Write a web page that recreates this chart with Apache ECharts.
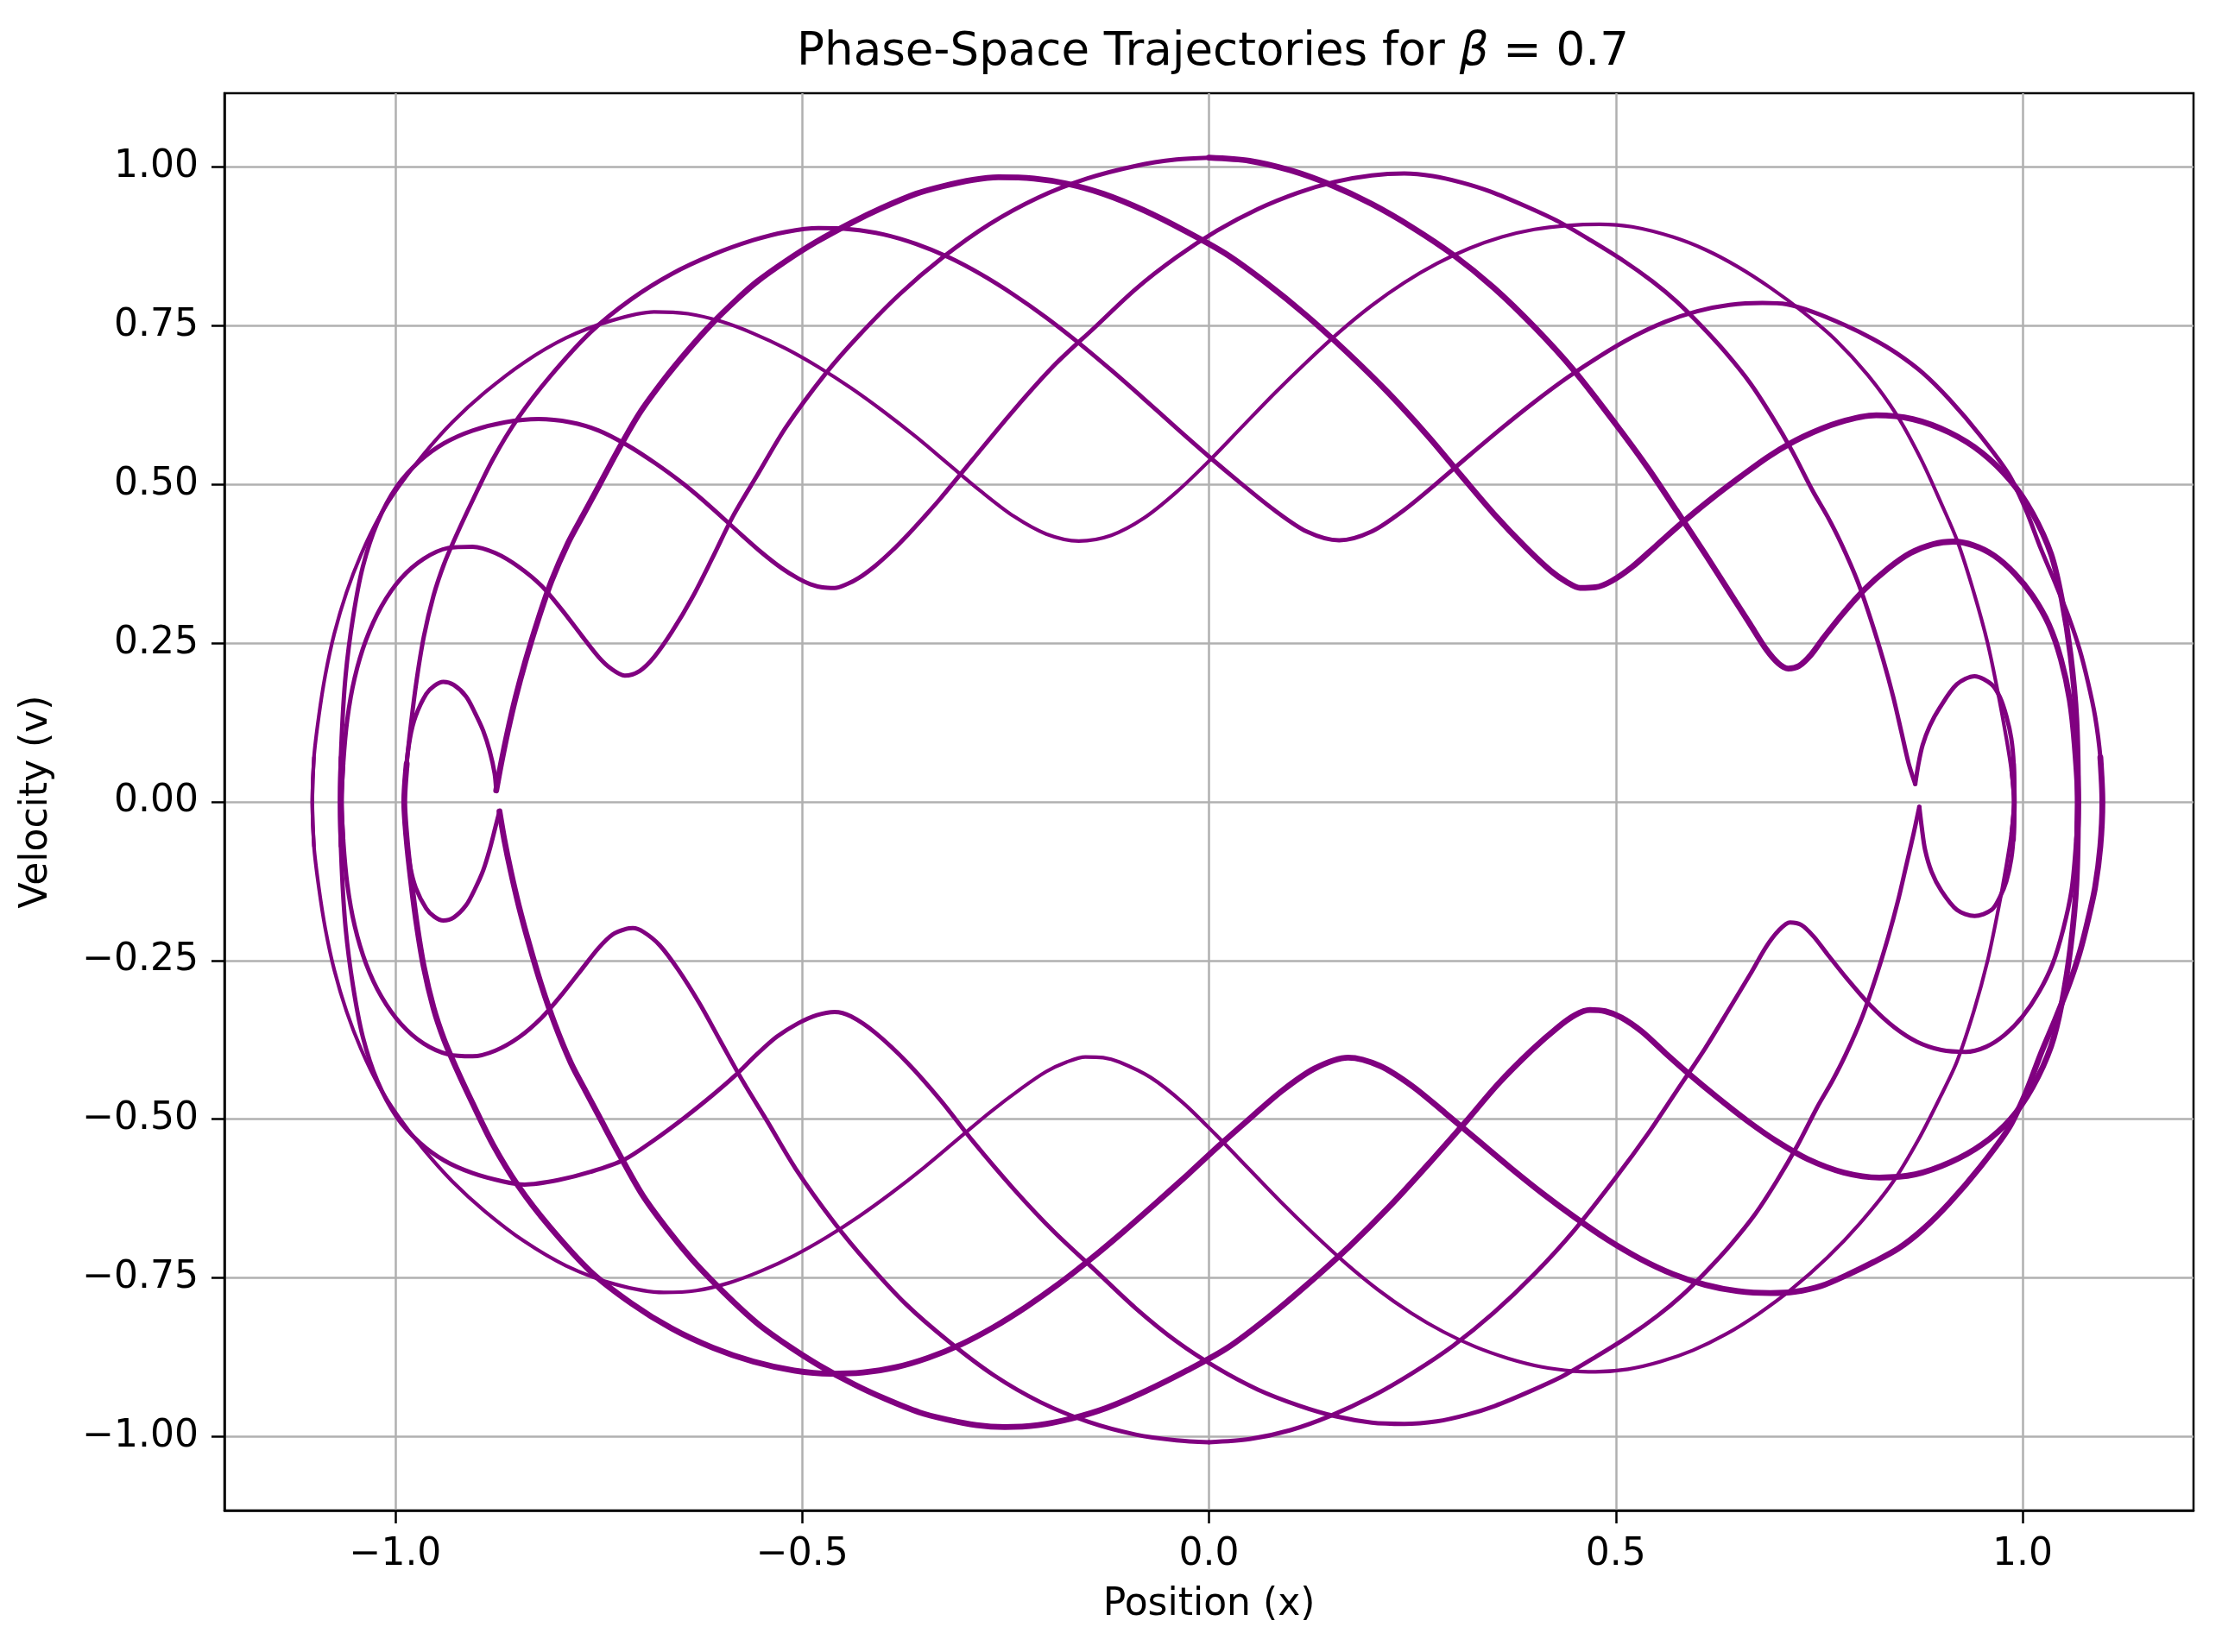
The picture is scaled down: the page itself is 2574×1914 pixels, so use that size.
<!DOCTYPE html>
<html><head><meta charset="utf-8">
<script src="https://cdn.jsdelivr.net/npm/echarts@6/dist/echarts.min.js"></script>
<style>html,body{margin:0;padding:0;background:#fff;} #chart{width:2574px;height:1914px;}</style>
</head><body><div id="chart"></div>
<script>
// ---- tick values ----
const xTicks = [-1.0, -0.5, 0.0, 0.5, 1.0];
const yTicks = [-1.0, -0.75, -0.5, -0.25, 0.0, 0.25, 0.5, 0.75, 1.0];

// ---- upper half passes (v > 0) ----
const t1aX = [-0.987,-0.989,-0.987,-0.982,-0.975,-0.962,-0.952,-0.941,-0.928,-0.913,-0.902,-0.892,-0.884,-0.878,-0.876];
const t1aV = [-0.050,0.000,0.050,0.100,0.135,0.170,0.183,0.189,0.184,0.166,0.140,0.112,0.080,0.045,0.018];
const t1bX = [-0.876,-0.870,-0.862,-0.852,-0.840,-0.825,-0.808,-0.788,-0.770,-0.753,-0.728,-0.700,-0.670,-0.640,-0.612,-0.580,-0.555,-0.520,-0.483,-0.440,-0.403,-0.360,-0.327,-0.290,-0.259,-0.215,-0.175,-0.130,-0.080,-0.030,0.020,0.070,0.120,0.170,0.220,0.270,0.310,0.350,0.390,0.420,0.440,0.456,0.475,0.495,0.520,0.550,0.580,0.615,0.654,0.690,0.730,0.775,0.820,0.865,0.910,0.950,0.985,1.012,1.035,1.048,1.059,1.066,1.068,1.066];
const t1bV = [0.018,0.060,0.110,0.165,0.222,0.285,0.348,0.407,0.450,0.490,0.550,0.612,0.665,0.712,0.752,0.792,0.820,0.852,0.882,0.912,0.935,0.958,0.970,0.980,0.984,0.982,0.974,0.958,0.932,0.900,0.864,0.818,0.766,0.708,0.645,0.575,0.514,0.454,0.400,0.364,0.346,0.337,0.338,0.348,0.370,0.404,0.438,0.475,0.513,0.546,0.575,0.598,0.609,0.603,0.582,0.550,0.506,0.455,0.390,0.320,0.230,0.130,0.000,-0.100];

const t2aX = [-1.067,-1.068,-1.066,-1.061,-1.052,-1.040,-1.022,-0.998,-0.970,-0.940,-0.905,-0.865,-0.824,-0.785,-0.750,-0.715,-0.680,-0.645,-0.610,-0.580,-0.550,-0.525,-0.505,-0.490,-0.475,-0.460,-0.445,-0.430,-0.410,-0.390,-0.370,-0.350,-0.330,-0.290,-0.240,-0.190,-0.140,-0.090,-0.040,0.010,0.060,0.110,0.155,0.200,0.240,0.275,0.310,0.345,0.390,0.430,0.470,0.510,0.545,0.575,0.605,0.635,0.665,0.692,0.717,0.742,0.760,0.777,0.797,0.814,0.829,0.841,0.851,0.860,0.868];
const t2aV = [-0.070,0.000,0.100,0.200,0.290,0.370,0.440,0.497,0.537,0.565,0.585,0.598,0.603,0.598,0.585,0.562,0.533,0.500,0.462,0.427,0.393,0.368,0.352,0.343,0.338,0.337,0.343,0.353,0.372,0.395,0.421,0.449,0.478,0.540,0.617,0.688,0.748,0.808,0.858,0.900,0.934,0.960,0.977,0.987,0.990,0.986,0.976,0.962,0.938,0.914,0.884,0.852,0.820,0.788,0.750,0.708,0.660,0.607,0.552,0.490,0.450,0.407,0.348,0.285,0.222,0.165,0.110,0.060,0.028];
const t2bX = [0.868,0.872,0.877,0.886,0.898,0.919,0.941,0.962,0.972,0.980,0.986,0.989,0.990,0.989];
const t2bV = [0.028,0.060,0.089,0.120,0.148,0.185,0.198,0.185,0.165,0.135,0.100,0.060,0.000,-0.060];

const t3aX = [-1.064,-1.066,-1.064,-1.059,-1.050,-1.036,-1.017,-0.993,-0.965,-0.935,-0.905,-0.877,-0.848,-0.820,-0.795,-0.771,-0.750,-0.735,-0.718,-0.700,-0.682,-0.660,-0.635,-0.610,-0.585,-0.555,-0.520,-0.471,-0.430,-0.380,-0.327,-0.270,-0.210,-0.150,-0.090,-0.040,0.000];
const t3aV = [-0.060,0.000,0.060,0.130,0.195,0.255,0.308,0.352,0.383,0.400,0.402,0.392,0.370,0.340,0.302,0.262,0.228,0.210,0.199,0.206,0.228,0.268,0.322,0.385,0.450,0.515,0.590,0.675,0.735,0.800,0.858,0.910,0.952,0.982,1.002,1.012,1.015];
const t3bX = [0.000,0.050,0.100,0.150,0.200,0.250,0.300,0.350,0.400,0.449,0.500,0.540,0.575,0.610,0.640,0.665,0.685,0.700,0.712,0.725,0.740,0.755,0.780,0.806,0.835,0.862,0.890,0.915,0.940,0.965,0.990,1.012,1.032,1.047,1.058,1.064,1.068,1.067];
const t3bV = [1.015,1.010,0.995,0.972,0.942,0.905,0.862,0.810,0.748,0.679,0.595,0.525,0.458,0.390,0.330,0.280,0.240,0.218,0.210,0.214,0.232,0.258,0.298,0.335,0.368,0.392,0.406,0.410,0.404,0.388,0.360,0.325,0.280,0.225,0.160,0.090,0.000,-0.060];

const t4X = [-1.100,-1.102,-1.100,-1.094,-1.086,-1.075,-1.060,-1.042,-1.020,-0.995,-0.965,-0.930,-0.890,-0.842,-0.790,-0.735,-0.682,-0.640,-0.600,-0.560,-0.520,-0.480,-0.440,-0.400,-0.360,-0.320,-0.280,-0.240,-0.200,-0.160,-0.120,-0.080,-0.040,0.000,0.040,0.080,0.120,0.160,0.200,0.240,0.280,0.320,0.360,0.400,0.440,0.480,0.520,0.570,0.610,0.650,0.690,0.730,0.770,0.810,0.845,0.875,0.900,0.920,0.940,0.957,0.970,0.980,0.986,0.989,0.986];
const t4V = [-0.070,0.000,0.070,0.135,0.200,0.265,0.330,0.390,0.448,0.498,0.548,0.598,0.645,0.692,0.731,0.758,0.772,0.769,0.757,0.738,0.714,0.685,0.652,0.615,0.575,0.532,0.489,0.450,0.422,0.411,0.420,0.447,0.488,0.537,0.590,0.643,0.693,0.740,0.782,0.818,0.848,0.872,0.890,0.902,0.908,0.910,0.906,0.890,0.870,0.843,0.810,0.772,0.728,0.672,0.610,0.540,0.470,0.410,0.330,0.250,0.170,0.100,0.050,0.000,-0.050];

const t5X = [-0.986,-0.989,-0.986,-0.981,-0.974,-0.965,-0.953,-0.940,-0.925,-0.905,-0.880,-0.849,-0.810,-0.760,-0.710,-0.660,-0.610,-0.560,-0.520,-0.480,-0.440,-0.400,-0.360,-0.320,-0.280,-0.240,-0.200,-0.160,-0.120,-0.080,-0.040,0.000,0.040,0.080,0.120,0.160,0.200,0.240,0.280,0.320,0.360,0.400,0.440,0.480,0.520,0.560,0.600,0.640,0.680,0.710,0.742,0.780,0.815,0.845,0.877,0.910,0.948,0.983,1.004,1.022,1.040,1.057,1.070,1.080,1.089,1.0955,1.098,1.0955];
const t5V = [-0.060,0.000,0.060,0.120,0.190,0.260,0.325,0.375,0.420,0.475,0.540,0.605,0.670,0.740,0.792,0.832,0.862,0.885,0.898,0.904,0.902,0.894,0.879,0.858,0.831,0.799,0.763,0.723,0.680,0.635,0.589,0.544,0.501,0.460,0.426,0.412,0.426,0.460,0.502,0.546,0.589,0.630,0.668,0.702,0.732,0.756,0.773,0.783,0.786,0.784,0.772,0.752,0.730,0.707,0.676,0.634,0.577,0.516,0.460,0.400,0.345,0.290,0.240,0.190,0.135,0.070,0.000,-0.070];

// ---- lower half passes (v < 0) ----
const b1aX = [-0.987,-0.989,-0.987,-0.982,-0.975,-0.962,-0.952,-0.941,-0.928,-0.913,-0.902,-0.892,-0.884,-0.877,-0.872];
const b1aV = [0.050,0.000,-0.050,-0.100,-0.135,-0.168,-0.181,-0.187,-0.182,-0.163,-0.137,-0.108,-0.075,-0.040,-0.015];
const b1bX = [-0.872,-0.866,-0.858,-0.848,-0.836,-0.821,-0.804,-0.784,-0.766,-0.749,-0.724,-0.696,-0.666,-0.636,-0.608,-0.576,-0.551,-0.516,-0.479,-0.436,-0.399,-0.356,-0.323,-0.286,-0.251,-0.210,-0.170,-0.126,-0.077,-0.027,0.023,0.073,0.123,0.173,0.223,0.273,0.315,0.355,0.396,0.428,0.450,0.468,0.487,0.507,0.532,0.561,0.591,0.625,0.662,0.698,0.736,0.780,0.824,0.868,0.911,0.950,0.985,1.012,1.035,1.048,1.059,1.066,1.068,1.066];
const b1bV = [-0.015,-0.060,-0.110,-0.165,-0.222,-0.287,-0.350,-0.412,-0.456,-0.497,-0.557,-0.620,-0.673,-0.720,-0.758,-0.798,-0.826,-0.858,-0.888,-0.918,-0.940,-0.962,-0.973,-0.982,-0.985,-0.982,-0.972,-0.955,-0.928,-0.896,-0.860,-0.812,-0.758,-0.700,-0.636,-0.566,-0.505,-0.445,-0.392,-0.356,-0.336,-0.328,-0.330,-0.340,-0.362,-0.396,-0.430,-0.466,-0.503,-0.535,-0.563,-0.584,-0.592,-0.587,-0.568,-0.540,-0.500,-0.450,-0.385,-0.318,-0.228,-0.130,0.000,0.100];

const b2aX = [-1.067,-1.068,-1.066,-1.061,-1.052,-1.040,-1.022,-0.998,-0.970,-0.940,-0.905,-0.868,-0.841,-0.800,-0.760,-0.719,-0.682,-0.645,-0.610,-0.583,-0.555,-0.531,-0.505,-0.482,-0.460,-0.440,-0.410,-0.370,-0.330,-0.290,-0.240,-0.190,-0.140,-0.090,-0.040,0.010,0.060,0.110,0.155,0.200,0.240,0.280,0.316,0.351,0.396,0.436,0.476,0.516,0.551,0.581,0.611,0.641,0.671,0.698,0.723,0.748,0.766,0.783,0.803,0.820,0.835,0.847,0.857,0.866,0.873];
const b2aV = [0.070,0.000,-0.100,-0.200,-0.290,-0.370,-0.440,-0.497,-0.537,-0.565,-0.585,-0.598,-0.603,-0.596,-0.583,-0.564,-0.533,-0.498,-0.462,-0.432,-0.397,-0.370,-0.349,-0.336,-0.331,-0.338,-0.364,-0.412,-0.470,-0.535,-0.610,-0.678,-0.738,-0.798,-0.850,-0.892,-0.926,-0.951,-0.968,-0.978,-0.980,-0.976,-0.966,-0.952,-0.928,-0.904,-0.874,-0.842,-0.810,-0.778,-0.740,-0.698,-0.650,-0.597,-0.542,-0.480,-0.440,-0.397,-0.338,-0.275,-0.212,-0.155,-0.100,-0.050,-0.008];
const b2bX = [0.873,0.876,0.880,0.888,0.900,0.919,0.941,0.962,0.972,0.980,0.986,0.989,0.990,0.989];
const b2bV = [-0.008,-0.040,-0.075,-0.110,-0.140,-0.170,-0.180,-0.170,-0.150,-0.125,-0.090,-0.050,0.000,0.060];

const b3aX = [-1.064,-1.066,-1.064,-1.059,-1.050,-1.036,-1.017,-0.993,-0.965,-0.935,-0.905,-0.877,-0.848,-0.820,-0.795,-0.771,-0.750,-0.733,-0.716,-0.708,-0.695,-0.675,-0.652,-0.626,-0.600,-0.573,-0.543,-0.508,-0.460,-0.420,-0.372,-0.320,-0.265,-0.207,-0.148,-0.090,-0.040,0.000];
const b3aV = [0.060,0.000,-0.060,-0.130,-0.195,-0.255,-0.307,-0.350,-0.381,-0.398,-0.401,-0.392,-0.371,-0.340,-0.303,-0.264,-0.230,-0.209,-0.200,-0.199,-0.205,-0.226,-0.265,-0.318,-0.378,-0.440,-0.503,-0.578,-0.664,-0.726,-0.792,-0.850,-0.903,-0.946,-0.977,-0.997,-1.006,-1.009];
const b3bX = [0.000,0.050,0.100,0.150,0.200,0.250,0.300,0.350,0.400,0.449,0.500,0.540,0.575,0.610,0.640,0.665,0.685,0.700,0.714,0.728,0.743,0.760,0.785,0.813,0.842,0.870,0.900,0.930,0.955,0.978,1.000,1.020,1.037,1.050,1.060,1.065,1.068,1.067];
const b3bV = [-1.009,-1.004,-0.990,-0.967,-0.937,-0.900,-0.857,-0.805,-0.744,-0.675,-0.592,-0.522,-0.455,-0.388,-0.325,-0.272,-0.228,-0.203,-0.190,-0.194,-0.212,-0.240,-0.280,-0.321,-0.355,-0.378,-0.391,-0.394,-0.386,-0.367,-0.338,-0.300,-0.255,-0.200,-0.140,-0.075,0.000,0.060];

const b4X = [-1.100,-1.102,-1.100,-1.094,-1.086,-1.075,-1.060,-1.042,-1.020,-0.995,-0.965,-0.930,-0.890,-0.842,-0.790,-0.730,-0.670,-0.630,-0.590,-0.550,-0.510,-0.470,-0.430,-0.390,-0.350,-0.310,-0.270,-0.230,-0.200,-0.175,-0.152,-0.130,-0.110,-0.072,-0.032,0.008,0.048,0.088,0.128,0.168,0.208,0.248,0.288,0.328,0.368,0.408,0.448,0.475,0.515,0.555,0.595,0.635,0.675,0.715,0.760,0.800,0.840,0.872,0.898,0.919,0.940,0.957,0.970,0.980,0.986,0.989,0.986];
const b4V = [0.070,0.000,-0.070,-0.135,-0.200,-0.265,-0.330,-0.390,-0.448,-0.498,-0.548,-0.598,-0.645,-0.692,-0.731,-0.760,-0.773,-0.770,-0.758,-0.739,-0.715,-0.686,-0.653,-0.616,-0.576,-0.533,-0.490,-0.451,-0.425,-0.410,-0.402,-0.403,-0.410,-0.434,-0.474,-0.524,-0.577,-0.630,-0.680,-0.727,-0.769,-0.805,-0.835,-0.859,-0.877,-0.890,-0.897,-0.898,-0.894,-0.882,-0.864,-0.839,-0.807,-0.769,-0.718,-0.664,-0.600,-0.532,-0.467,-0.410,-0.330,-0.250,-0.170,-0.100,-0.050,0.000,0.050];

const b5X = [-0.986,-0.989,-0.986,-0.981,-0.974,-0.965,-0.953,-0.940,-0.925,-0.905,-0.880,-0.849,-0.810,-0.760,-0.710,-0.660,-0.610,-0.560,-0.510,-0.465,-0.425,-0.385,-0.345,-0.305,-0.265,-0.225,-0.185,-0.145,-0.105,-0.065,-0.025,0.013,0.051,0.090,0.130,0.171,0.210,0.250,0.290,0.330,0.370,0.410,0.450,0.490,0.530,0.570,0.610,0.650,0.690,0.720,0.752,0.785,0.817,0.847,0.877,0.910,0.948,0.983,1.004,1.022,1.040,1.057,1.070,1.080,1.089,1.0955,1.098,1.0955];
const b5V = [0.060,0.000,-0.060,-0.120,-0.190,-0.260,-0.325,-0.375,-0.420,-0.475,-0.540,-0.605,-0.670,-0.740,-0.790,-0.830,-0.860,-0.882,-0.896,-0.901,-0.899,-0.891,-0.876,-0.855,-0.828,-0.796,-0.760,-0.720,-0.677,-0.632,-0.586,-0.541,-0.498,-0.455,-0.420,-0.403,-0.416,-0.448,-0.490,-0.533,-0.576,-0.617,-0.655,-0.690,-0.720,-0.744,-0.761,-0.771,-0.774,-0.772,-0.763,-0.745,-0.725,-0.704,-0.674,-0.632,-0.575,-0.514,-0.458,-0.398,-0.343,-0.288,-0.238,-0.188,-0.135,-0.070,0.000,0.070];

// ---- styling (kept apart from the data) ----
const LINE_COLOR = '#800080';
const THIN = 4.2, MED = 5.0, THICK = 6.8;
const passes = [
  [t1aX, t1aV, MED], [t1bX, t1bV, THICK],
  [t2aX, t2aV, MED], [t2bX, t2bV, MED],
  [t3aX, t3aV, MED], [t3bX, t3bV, THICK],
  [t4X, t4V, THIN], [t5X, t5V, MED],
  [b1aX, b1aV, MED], [b1bX, b1bV, THICK],
  [b2aX, b2aV, MED], [b2bX, b2bV, MED],
  [b3aX, b3aV, MED], [b3bX, b3bV, MED],
  [b4X, b4V, THIN], [b5X, b5V, THICK]
];

const FONT = 'DejaVu Sans';
const fmtX = v => (v < 0 ? '\u2212' : '') + Math.abs(v).toFixed(1);
const fmtY = v => (v < 0 ? '\u2212' : '') + Math.abs(v).toFixed(2);

const series = passes.map(([xs, vs, w]) => ({
  type: 'line',
  data: xs.map((x, i) => [x, vs[i]]),
  showSymbol: false,
  symbol: 'none',
  smooth: 0.3,
  lineStyle: { color: LINE_COLOR, width: w, cap: 'round', join: 'round' },
  emphasis: { disabled: true },
  z: 3
}));

const chart = echarts.init(document.getElementById('chart'), null, { renderer: 'canvas', width: 2574, height: 1914 });
chart.setOption({
  animation: false,
  backgroundColor: '#ffffff',
  title: {
    text: 'Phase-Space Trajectories for {it|\u03b2}{rm| = 0.7}',
    left: 1400, top: 30, textAlign: 'center', textVerticalAlign: 'top',
    textStyle: {
      fontFamily: FONT, fontSize: 53, fontWeight: 'normal', color: '#000',
      rich: {
        it: { fontFamily: FONT, fontSize: 53, fontStyle: 'italic', color: '#000' },
        rm: { fontFamily: FONT, fontSize: 53, color: '#000' }
      }
    }
  },
  grid: { left: 260, top: 108, width: 2281, height: 1642, containLabel: false, outerBoundsMode: 'none',
          show: true, borderColor: '#000', borderWidth: 2.5, backgroundColor: 'transparent' },
  xAxis: {
    type: 'value', min: -1.21, max: 1.21, position: 'bottom',
    axisLine: { show: true, onZero: false, lineStyle: { color: '#000', width: 2.5 } },
    axisTick: { show: true, inside: false, customValues: xTicks, length: 15, lineStyle: { color: '#000', width: 2.5 } },
    axisLabel: { customValues: xTicks, formatter: fmtX, margin: 30, fontSize: 44, fontFamily: FONT, color: '#000' },
    splitLine: { show: true, lineStyle: { color: '#b0b0b0', width: 2.5 } },
    name: 'Position (x)', nameLocation: 'middle', nameGap: 88,
    nameTextStyle: { fontSize: 44, fontFamily: FONT, color: '#000' }
  },
  yAxis: {
    type: 'value', min: -1.1165, max: 1.1165, position: 'left',
    axisLine: { show: true, onZero: false, lineStyle: { color: '#000', width: 2.5 } },
    axisTick: { show: true, inside: false, customValues: yTicks, length: 15, lineStyle: { color: '#000', width: 2.5 } },
    axisLabel: { customValues: yTicks, formatter: fmtY, margin: 30, fontSize: 44, fontFamily: FONT, color: '#000' },
    splitLine: { show: true, lineStyle: { color: '#b0b0b0', width: 2.5 } },
    name: 'Velocity (v)', nameLocation: 'middle', nameGap: 195, nameRotate: 90,
    nameTextStyle: { fontSize: 44, fontFamily: FONT, color: '#000' }
  },
  series: series
});
</script>
</body></html>
